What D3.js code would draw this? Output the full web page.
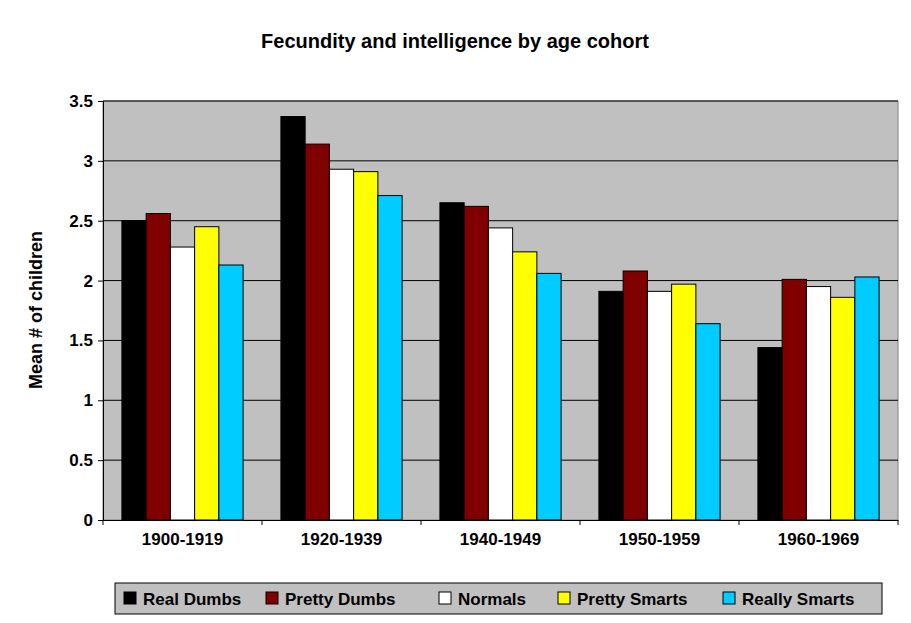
<!DOCTYPE html>
<html><head><meta charset="utf-8">
<script src="https://cdn.jsdelivr.net/npm/d3@7"></script>
<style>body{margin:0;background:#fff}text{font-family:"Liberation Sans",Arial,sans-serif;font-weight:bold}</style>
</head><body><svg id="c" width="911" height="623"></svg>
<script>
var cohorts = ["1900-1919", "1920-1939", "1940-1949", "1950-1959", "1960-1969"];
var groups = ["Real Dumbs", "Pretty Dumbs", "Normals", "Pretty Smarts", "Really Smarts"];
var colors = ["#000000", "#800000", "#ffffff", "#ffff00", "#00ccff"];
var realDumbs = [2.50, 3.37, 2.65, 1.91, 1.44];
var prettyDumbs = [2.56, 3.14, 2.62, 2.08, 2.01];
var normals = [2.28, 2.93, 2.44, 1.91, 1.95];
var prettySmarts = [2.45, 2.91, 2.24, 1.97, 1.86];
var reallySmarts = [2.13, 2.71, 2.06, 1.64, 2.03];
var yTicks = [0, 0.5, 1, 1.5, 2, 2.5, 3, 3.5];

var series = [realDumbs, prettyDumbs, normals, prettySmarts, reallySmarts];
var svg = d3.select("#c");
var L = 103, R = 898, T = 101, B = 520;

var x = d3.scaleBand().domain(cohorts).range([L, R]);
var xi = d3.scaleBand().domain(groups).range([0, x.bandwidth()]).paddingOuter(0.78).paddingInner(0);
var y = d3.scaleLinear().domain([0, 3.5]).range([B, T]);

svg.append("rect").attr("x", L).attr("y", T).attr("width", R - L).attr("height", B - T)
  .attr("fill", "#c0c0c0").attr("stroke", "#808080");

svg.append("g").selectAll("line").data(yTicks.slice(1)).join("line")
  .attr("x1", L).attr("x2", R).attr("y1", function (d) { return y(d); }).attr("y2", function (d) { return y(d); })
  .attr("stroke", "#000");

cohorts.forEach(function (c, i) {
  svg.append("g").selectAll("rect").data(series).join("rect")
    .attr("x", function (s, k) { return x(c) + xi(groups[k]); })
    .attr("width", xi.bandwidth())
    .attr("y", function (s) { return y(s[i]); })
    .attr("height", function (s) { return B - y(s[i]); })
    .attr("fill", function (s, k) { return colors[k]; })
    .attr("stroke", "#000");
});

var ya = svg.append("g").attr("transform", "translate(" + L + ",0)")
  .call(d3.axisLeft(y).tickValues(yTicks).tickFormat(d3.format("")).tickSize(5));
ya.selectAll("text").attr("font-size", 17).attr("fill", "#000").attr("dx", -2);
var xa = svg.append("g").attr("transform", "translate(0," + B + ")")
  .call(d3.axisBottom(x).tickSize(0));
xa.selectAll("text").attr("font-size", 17).attr("fill", "#000").attr("dy", 22);
xa.selectAll(".tick").append("line").attr("x1", -x.bandwidth() / 2).attr("x2", -x.bandwidth() / 2)
  .attr("y2", 5).attr("stroke", "#000");
svg.append("line").attr("x1", R).attr("x2", R).attr("y1", B).attr("y2", B + 5).attr("stroke", "#000");
svg.selectAll(".domain").attr("stroke", "#000");

svg.append("text").attr("x", 455).attr("y", 48).attr("text-anchor", "middle")
  .attr("font-size", 20).text("Fecundity and intelligence by age cohort");
svg.append("text").attr("transform", "translate(42,310) rotate(-90)").attr("text-anchor", "middle")
  .attr("font-size", 18).text("Mean # of children");

var lg = svg.append("g");
lg.append("rect").attr("x", 115).attr("y", 583).attr("width", 767).attr("height", 31)
  .attr("fill", "#c0c0c0").attr("stroke", "#000");
var lx = [124, 266, 439, 558, 723];
groups.forEach(function (g, k) {
  lg.append("rect").attr("x", lx[k]).attr("y", 592).attr("width", 12).attr("height", 12)
    .attr("fill", colors[k]).attr("stroke", "#000");
  lg.append("text").attr("x", lx[k] + 19).attr("y", 605).attr("font-size", 17).text(g);
});
</script></body></html>
